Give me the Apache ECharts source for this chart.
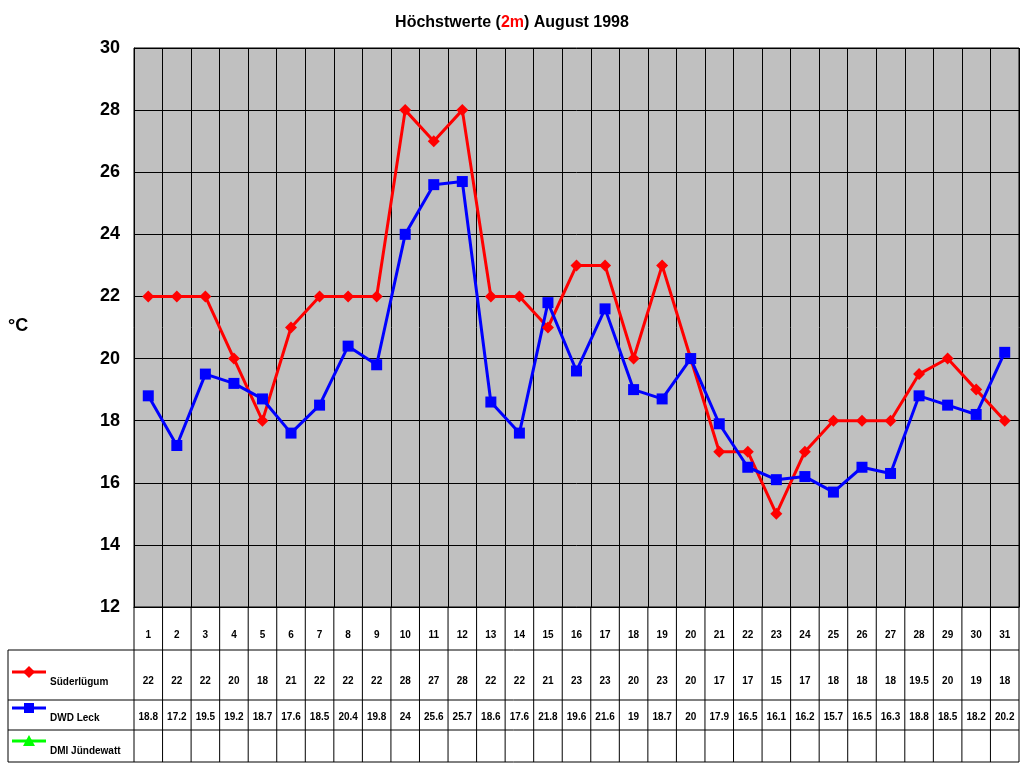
<!DOCTYPE html>
<html><head><meta charset="utf-8">
<script src="https://cdn.jsdelivr.net/npm/echarts@6/dist/echarts.min.js"></script>
<style>html,body{margin:0;padding:0;background:#fff}#c{width:1024px;height:768px}</style>
</head><body><div id="c"></div>
<script>
const days = Array.from({length:31},(_, i)=>String(i+1));
const suederluegum = [22,22,22,20,18,21,22,22,22,28,27,28,22,22,21,23,23,20,23,20,17,17,15,17,18,18,18,19.5,20,19,18];
const dwdLeck = [18.8,17.2,19.5,19.2,18.7,17.6,18.5,20.4,19.8,24,25.6,25.7,18.6,17.6,21.8,19.6,21.6,19,18.7,20,17.9,16.5,16.1,16.2,15.7,16.5,16.3,18.8,18.5,18.2,20.2];
const dmi = [];
const seriesNames = ['Süderlügum','DWD Leck','DMI Jündewatt'];
const L=134,R=1019,T=48,B=607;
const chart = echarts.init(document.getElementById('c'));
const F='Arial, Liberation Sans, sans-serif';
chart.setOption({
  animation:false,
  title:{text:'{a|Höchstwerte (}{b|2m}{a|) August 1998}',left:'center',top:10,
    textStyle:{rich:{a:{fontFamily:F,fontWeight:'bold',fontSize:16,color:'#000'},
      b:{fontFamily:F,fontWeight:'bold',fontSize:16,color:'#f00',textDecoration:'underline'}}}},
  grid:{left:L,right:1024-R,top:T,bottom:768-B,show:true,backgroundColor:'#c0c0c0',borderColor:'#000',borderWidth:1},
  xAxis:{type:'category',data:days,boundaryGap:true,axisLabel:{show:false},axisTick:{show:false},
    axisLine:{lineStyle:{color:'#000'}},splitLine:{show:true,interval:0,lineStyle:{color:'#000',width:1}}},
  yAxis:{type:'value',min:12,max:30,interval:2,axisLine:{show:true,lineStyle:{color:'#000'}},axisTick:{show:false},
    axisLabel:{fontFamily:F,fontWeight:'bold',fontSize:18,color:'#000',margin:14},
    splitLine:{lineStyle:{color:'#000',width:1}}},
  series:[
    {name:seriesNames[0],type:'line',data:suederluegum,symbol:'diamond',symbolSize:12,lineStyle:{color:'#f00',width:3},itemStyle:{color:'#f00'}},
    {name:seriesNames[1],type:'line',data:dwdLeck,symbol:'rect',symbolSize:11,lineStyle:{color:'#00f',width:3},itemStyle:{color:'#00f'}},
    {name:seriesNames[2],type:'line',data:dmi,symbol:'triangle',symbolSize:11,lineStyle:{color:'#0f0',width:3},itemStyle:{color:'#0f0'}}
  ]
});
const g=[];
g.push({type:'text',left:8,top:317,style:{text:'°C',font:'bold 18px '+F,fill:'#000'}});
const rows=[[607,650],[650,700],[700,730],[730,762]];
const lineS={stroke:'#000',lineWidth:1};
// horizontal lines
[650,700,730,762].forEach(y=>g.push({type:'line',shape:{x1:8,y1:y,x2:R,y2:y},style:lineS}));
g.push({type:'line',shape:{x1:8,y1:650,x2:8,y2:762},style:lineS});
const cw=(R-L)/days.length;
for(let i=0;i<=days.length;i++){const x=L+i*cw;g.push({type:'line',shape:{x1:x,y1:B,x2:x,y2:762},style:lineS});}
const dataRows=[days,suederluegum,dwdLeck,dmi];
const textY=[635,681,717,750];
dataRows.forEach((arr,r)=>arr.forEach((v,i)=>{
  const x=chart.convertToPixel({xAxisIndex:0},i);
  g.push({type:'text',x:x,y:textY[r],style:{text:String(v),font:'bold 10px '+F,fill:'#000',align:'center',verticalAlign:'middle'}});
}));
const cols=['#f00','#00f','#0f0'];const syms=['diamond','rect','triangle'];
[1,2,3].forEach((r,k)=>{
  const y=textY[r]-9;
  g.push({type:'line',shape:{x1:12,y1:y,x2:46,y2:y},style:{stroke:cols[k],lineWidth:3}});
  if(k===0) g.push({type:'polygon',shape:{points:[[29,y-6],[35,y],[29,y+6],[23,y]]},style:{fill:cols[k]}});
  if(k===1) g.push({type:'rect',shape:{x:24,y:y-5,width:10,height:10},style:{fill:cols[k]}});
  if(k===2) g.push({type:'polygon',shape:{points:[[29,y-6],[35,y+5],[23,y+5]]},style:{fill:cols[k]}});
  g.push({type:'text',x:50,y:textY[r]+1,style:{text:seriesNames[k],font:'bold 10px '+F,fill:'#000',verticalAlign:'middle'}});
});
chart.setOption({graphic:g});
</script></body></html>
